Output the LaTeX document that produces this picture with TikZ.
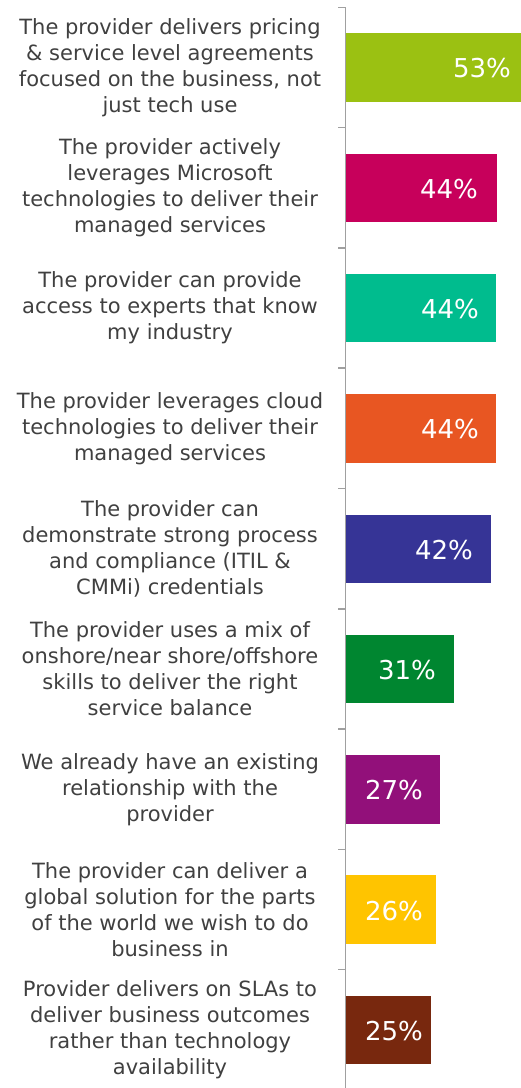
\documentclass[tikz,border=0pt]{standalone}
\usepackage{fontspec}
\setmainfont{DejaVu Sans}
\definecolor{textgrey}{RGB}{64, 64, 64}
\definecolor{axisgrey}{RGB}{160, 160, 160}
\definecolor{barlime}{RGB}{155, 193, 18}
\definecolor{barmagenta}{RGB}{199, 0, 91}
\definecolor{barteal}{RGB}{0, 188, 142}
\definecolor{barorange}{RGB}{232, 86, 34}
\definecolor{barindigo}{RGB}{54, 52, 150}
\definecolor{bargreen}{RGB}{0, 134, 48}
\definecolor{barpurple}{RGB}{146, 16, 122}
\definecolor{baryellow}{RGB}{255, 196, 0}
\definecolor{barbrown}{RGB}{120, 40, 14}
\tikzset{
    x=1bp, y=-1bp,
    every node/.style={inner sep=0pt},
    question/.style={text=textgrey, align=center,
        font=\fontsize{21bp}{26bp}\selectfont},
    share/.style={text=white, anchor=east,
        font=\fontsize{26bp}{30bp}\selectfont},
    axisline/.style={draw=axisgrey, line width=1.5bp},
}

\begin{document}
\begin{tikzpicture}
        \useasboundingbox (0, 0) rectangle (521, 1088);
        % bars, one per reason
        \fill[barlime] (346, 33.3) rectangle (521, 101.7);
        \fill[barmagenta] (346, 153.6) rectangle (497, 222);
        \fill[barteal] (346, 273.9) rectangle (496, 342.3);
        \fill[barorange] (346, 394.2) rectangle (496, 462.6);
        \fill[barindigo] (346, 514.5) rectangle (491, 582.9);
        \fill[bargreen] (346, 634.8) rectangle (454, 703.2);
        \fill[barpurple] (346, 755.1) rectangle (440, 823.5);
        \fill[baryellow] (346, 875.4) rectangle (436, 943.8);
        \fill[barbrown] (346, 995.7) rectangle (431, 1064.1);
        % axis with ticks between the categories
        \coordinate (axistop) at (345.3, 7.3);
        \coordinate (axisbottom) at (345.3, 1088);
        \draw[axisline] (axistop) -- (axisbottom);
        \foreach \k in {0,...,8}
            \draw[axisline] (338, 7.3+120.3*\k) -- (345.3, 7.3+120.3*\k);
        % values
        \node[share] (p53) at (511, 68.5) {53\%};
        \node[share] (p44a) at (478, 188.8) {44\%};
        \node[share] (p44b) at (479, 309.1) {44\%};
        \node[share] (p44c) at (479, 429.4) {44\%};
        \node[share] (p42) at (473, 549.7) {42\%};
        \node[share] (p31) at (436, 670) {31\%};
        \node[share] (p27) at (423, 790.3) {27\%};
        \node[share] (p26) at (423, 910.6) {26\%};
        \node[share] (p25) at (423, 1030.9) {25\%};
        % reasons
        \node[question] (pricing) at (170, 67.5)
            {The provider delivers pricing\\ \& service level agreements\\
             focused on the business, not\\ just tech use};
        \node[question] (microsoft) at (170, 187.8)
            {The provider actively\\ leverages Microsoft\\
             technologies to deliver their\\ managed services};
        \node[question] (experts) at (170, 308.1)
            {The provider can provide\\ access to experts that know\\
             my industry};
        \node[question] (cloud) at (170, 428.4)
            {The provider leverages cloud\\ technologies to deliver their\\
             managed services};
        \node[question] (process) at (170, 548.7)
            {The provider can\\ demonstrate strong process\\
             and compliance (ITIL \&\\ CMMi) credentials};
        \node[question] (shoring) at (170, 669)
            {The provider uses a mix of\\ onshore/near shore/offshore\\
             skills to deliver the right\\ service balance};
        \node[question] (existing) at (170, 789.3)
            {We already have an existing\\ relationship with the\\
             provider};
        \node[question] (global) at (170, 909.6)
            {The provider can deliver a\\ global solution for the parts\\
             of the world we wish to do\\ business in};
        \node[question] (outcomes) at (170, 1029.9)
            {Provider delivers on SLAs to\\ deliver business outcomes\\
             rather than technology\\ availability};
    \end{tikzpicture}
\end{document}
